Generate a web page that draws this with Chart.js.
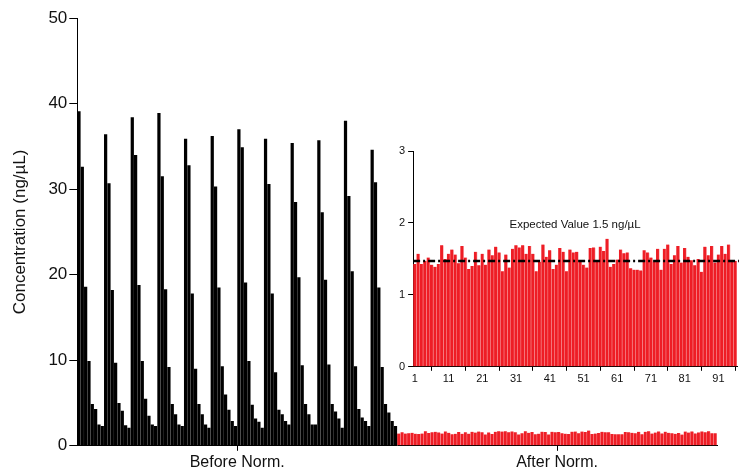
<!DOCTYPE html>
<html>
<head>
<meta charset="utf-8">
<script src="https://cdn.jsdelivr.net/npm/chart.js@4/dist/chart.umd.min.js"></script>
<style>
  body { margin: 0; background: #fff; }
  #wrap { position: relative; width: 742px; height: 474px; }
  #main { position: absolute; left: 0; top: 0; }
  #inset { position: absolute; left: 370px; top: 130px; }
</style>
</head>
<body>
<div id="wrap">
  <canvas id="main" width="742" height="474"></canvas>
  <canvas id="inset" width="372" height="264"></canvas>
</div>
<script>
// 12 dilution series of 8 samples, before normalisation
const beforeValues = [
  39.1, 32.6, 18.6, 9.9, 4.9, 4.3, 2.5, 2.3,
  36.4, 30.7, 18.2, 9.7, 5.0, 4.1, 2.4, 2.1,
  38.4, 34.0, 18.8, 9.9, 5.5, 3.5, 2.5, 2.3,
  38.9, 31.5, 18.3, 9.2, 4.9, 3.7, 2.5, 2.3,
  35.9, 32.8, 17.8, 9.0, 4.9, 3.7, 2.5, 2.1,
  36.2, 30.3, 18.5, 9.3, 6.0, 4.2, 2.9, 2.3,
  37.0, 34.9, 19.1, 9.9, 4.8, 3.2, 2.8, 2.1,
  35.9, 30.6, 17.8, 8.6, 4.2, 3.7, 2.9, 2.5,
  35.4, 28.5, 19.7, 9.4, 4.9, 3.7, 2.5, 2.5,
  35.7, 27.3, 19.4, 9.5, 4.9, 4.0, 3.2, 2.1,
  38.0, 29.2, 20.4, 9.3, 4.3, 3.3, 2.9, 2.3,
  34.6, 30.8, 18.5, 9.2, 4.9, 3.9, 2.9, 2.3
];

// same 96 samples after normalisation
const afterValues = [
  1.43, 1.57, 1.43, 1.47, 1.52, 1.42, 1.39, 1.43, 1.69, 1.50,
  1.57, 1.63, 1.56, 1.44, 1.68, 1.52, 1.36, 1.40, 1.60, 1.41,
  1.57, 1.42, 1.63, 1.55, 1.67, 1.59, 1.33, 1.56, 1.38, 1.64,
  1.69, 1.66, 1.69, 1.57, 1.68, 1.57, 1.33, 1.46, 1.70, 1.53,
  1.62, 1.36, 1.42, 1.65, 1.60, 1.33, 1.63, 1.59, 1.60, 1.46,
  1.42, 1.38, 1.65, 1.66, 1.46, 1.67, 1.61, 1.78, 1.39, 1.43,
  1.49, 1.63, 1.58, 1.59, 1.37, 1.35, 1.35, 1.34, 1.62, 1.59,
  1.52, 1.46, 1.64, 1.35, 1.64, 1.70, 1.43, 1.55, 1.68, 1.45,
  1.65, 1.53, 1.48, 1.41, 1.50, 1.32, 1.67, 1.55, 1.68, 1.45,
  1.56, 1.68, 1.57, 1.70, 1.46, 1.47
];

const groupLabels = ['Before Norm.', 'After Norm.'];
const mainYTicks = [0, 10, 20, 30, 40, 50];
const insetYTicks = [0, 1, 2, 3];
const expectedValue = 1.47;
const expectedLabel = 'Expected Value 1.5 ng/\u00B5L';

const red = '#EE1D25';
const pink = '#F7A3A7';

Chart.defaults.font.family = 'Arial, "Liberation Sans", sans-serif';
Chart.defaults.color = '#111';
Chart.defaults.animation = false;

const nBefore = beforeValues.length;
const nAfter = afterValues.length;
const groupCenters = [(nBefore - 1) / 2, nBefore + (nAfter - 1) / 2];

new Chart(document.getElementById('main'), {
  type: 'bar',
  data: {
    datasets: [{
      data: beforeValues.map((v, i) => ({ x: i, y: v })),
      backgroundColor: '#000',
      grouped: false,
      barPercentage: 0.97,
      categoryPercentage: 1
    }, {
      data: afterValues.map((v, i) => ({ x: nBefore + i, y: v })),
      backgroundColor: red,
      borderColor: pink,
      borderWidth: { right: 0.8 },
      borderSkipped: false,
      grouped: false,
      barPercentage: 1,
      categoryPercentage: 1
    }]
  },
  options: {
    responsive: false,
    layout: { padding: { left: 6, top: 18, right: 25, bottom: 0 } },
    plugins: { legend: { display: false }, tooltip: { enabled: false } },
    scales: {
      x: {
        type: 'linear',
        offset: false,
        min: -0.5,
        max: nBefore + nAfter - 0.5,
        afterBuildTicks: axis => {
          axis.ticks = groupCenters.map(value => ({ value }));
        },
        ticks: {
          font: { size: 16 },
          padding: 2,
          maxRotation: 0,
          autoSkip: false,
          callback: value => groupLabels[groupCenters.indexOf(value)]
        },
        grid: { drawOnChartArea: false, tickLength: 5, color: '#000', offset: false },
        border: { color: '#000', width: 1 }
      },
      y: {
        min: 0,
        max: 50,
        afterBuildTicks: axis => {
          axis.ticks = mainYTicks.map(value => ({ value }));
        },
        ticks: { font: { size: 17 }, padding: 2 },
        grid: { drawOnChartArea: false, tickLength: 8, color: '#000' },
        border: { color: '#000', width: 1 },
        title: {
          display: true,
          text: 'Concentration (ng/\u00B5L)',
          font: { size: 17 },
          padding: { top: 4, bottom: 16 }
        }
      }
    }
  }
});

const expectedLine = {
  id: 'expectedLine',
  afterDatasetsDraw(chart) {
    const { ctx, chartArea, scales } = chart;
    const y = scales.y.getPixelForValue(expectedValue);
    ctx.save();
    ctx.strokeStyle = '#000';
    ctx.lineWidth = 2.5;
    ctx.setLineDash([7, 3, 2, 3]);
    ctx.beginPath();
    ctx.moveTo(chartArea.left, y);
    ctx.lineTo(chartArea.right + 2, y);
    ctx.stroke();
    ctx.setLineDash([]);
    ctx.fillStyle = '#111';
    ctx.font = '11.5px Arial, "Liberation Sans", sans-serif';
    ctx.textAlign = 'center';
    ctx.textBaseline = 'middle';
    ctx.fillText(expectedLabel, (chartArea.left + chartArea.right) / 2, y - 36);
    ctx.restore();
  }
};

new Chart(document.getElementById('inset'), {
  type: 'bar',
  data: {
    labels: afterValues.map((v, i) => String(i + 1)),
    datasets: [{
      data: afterValues,
      backgroundColor: red,
      borderColor: pink,
      borderWidth: { right: 0.8 },
      borderSkipped: false,
      barPercentage: 1,
      categoryPercentage: 1
    }]
  },
  options: {
    responsive: false,
    layout: { padding: { left: 26, top: 21, right: 5, bottom: 6 } },
    plugins: { legend: { display: false }, tooltip: { enabled: false } },
    scales: {
      x: {
        afterBuildTicks: axis => {
          axis.ticks = axis.ticks.filter((t, i) => i % 10 === 0);
        },
        ticks: {
          font: { size: 11 },
          padding: 2,
          maxRotation: 0,
          autoSkip: false,
          callback: function (value) { return this.getLabelForValue(value); }
        },
        grid: { drawOnChartArea: false, tickLength: 4, color: '#000' },
        border: { color: '#000', width: 1 }
      },
      y: {
        min: 0,
        max: 3,
        afterBuildTicks: axis => {
          axis.ticks = insetYTicks.map(value => ({ value }));
        },
        ticks: { font: { size: 11 }, padding: 3 },
        grid: { drawOnChartArea: false, tickLength: 5, color: '#000' },
        border: { color: '#000', width: 1 }
      }
    }
  },
  plugins: [expectedLine]
});
</script>
</body>
</html>
